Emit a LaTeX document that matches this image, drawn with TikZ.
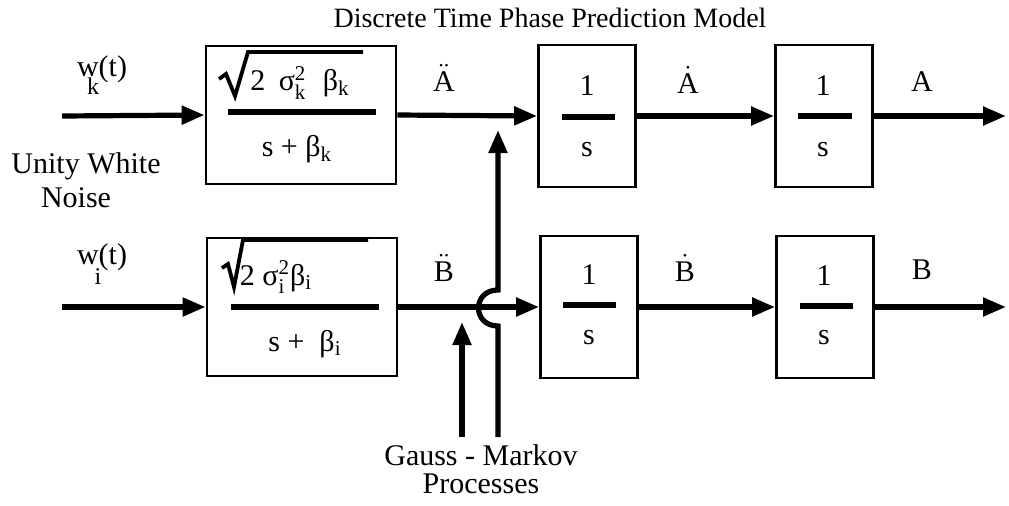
\documentclass[tikz,border=0pt]{standalone}
\usepackage{amsmath}
\usepackage{fontspec}
\setmainfont{Liberation Serif}
\usetikzlibrary{arrows.meta}
\begin{document}
\begin{tikzpicture}[x=0.5pt,y=-0.5pt,
  font=\fontsize{15}{17}\selectfont,
  filt/.style={draw,line width=1.4pt,minimum width=95pt,minimum height=69pt,inner sep=0pt},
  integ/.style={draw,line width=1.4pt,minimum width=48.5pt,minimum height=71pt,inner sep=0pt},
  conn/.style={line width=2.6pt,-{Triangle[length=11.5pt,width=9pt]}},
  fbar/.style={line width=2.8pt},
  rad/.style={line width=1.9pt,line join=miter},
  lbl/.style={inner sep=0pt},
  sub/.style={inner sep=0pt,font=\fontsize{12}{13}\selectfont}]
\useasboundingbox (0,0) rectangle (1009,505);
% blocks
\node[filt] (F1) at (301,115) {};
\node[filt] (F2) at (302,307) {};
\node[integ] (I1) at (587,116) {};
\node[integ] (I2) at (824,116) {};
\node[integ] (I3) at (589,307) {};
\node[integ] (I4) at (825,307) {};
% free ends
\coordinate (in1) at (62,116);
\coordinate (in2) at (62,307);
\coordinate (out1) at (1006,116);
\coordinate (out2) at (1006,307);
\coordinate (gmA) at (462,437);
\coordinate (tipA) at (462,322);
\coordinate (gmB) at (498,437);
\coordinate (hopB) at (498,326);
\coordinate (hopT) at (498,290);
\coordinate (tipB) at (498,130);
% connectors
\draw[conn] (in1) -- (F1.west);
\draw[conn] (F1.east) -- (I1.west);
\draw[conn] (I1.east) -- (I2.west);
\draw[conn] (I2.east) -- (out1);
\draw[conn] (in2) -- (F2.west);
\draw[conn] (F2.east) -- (I3.west);
\draw[conn] (I3.east) -- (I4.west);
\draw[conn] (I4.east) -- (out2);
\draw[conn] (gmA) -- (tipA);
\draw[conn] (gmB) -- (hopB) .. controls +(-26,0) and +(-26,0) .. (hopT) -- (tipB);
% filter 1 contents
\draw[rad] (219,79) -- (226,74) -- (235,96) -- (248,52) -- (363,52);
\node[lbl] (n1) at (300,83) {2\hspace{0.45em}σ$^{\text{2}}_{\text{k}}$\hspace{0.55em}β$_{\text{k}}$};
\draw[fbar] (228,112) -- (376,112);
\node[lbl] (d1) at (297,149) {s + β$_{\text{k}}$};
% filter 2 contents
\draw[rad] (222,268) -- (228,264) -- (234,287) -- (243,240) -- (368,240);
\node[lbl] (n2) at (276,277) {2 σ$^{\text{2}}_{\text{i}}$β$_{\text{i}}$};
\draw[fbar] (231,307) -- (379,307);
\node[lbl] (d2) at (305,344) {s +\ \ β$_{\text{i}}$};
% integrators
\node[lbl] (o1) at (587,86) {1};
\draw[fbar] (562,117) -- (615,117);
\node[lbl] (s1) at (587,150) {s};
\node[lbl] (o2) at (823,86) {1};
\draw[fbar] (798,116) -- (852,116);
\node[lbl] (s2) at (823,150) {s};
\node[lbl] (o3) at (589,275) {1};
\draw[fbar] (563,305) -- (616,305);
\node[lbl] (s3) at (589,338) {s};
\node[lbl] (o4) at (824,276) {1};
\draw[fbar] (800,306) -- (853,306);
\node[lbl] (s4) at (824,338) {s};
% signal labels
\node[lbl] (Add) at (444,78) {$\ddot{\text{A}}$};
\node[lbl] (Ad) at (688,80) {$\dot{\text{A}}$};
\node[lbl] (A) at (922,82) {A};
\node[lbl] (Bdd) at (444,268) {$\ddot{\text{B}}$};
\node[lbl] (Bd) at (685,268) {$\dot{\text{B}}$};
\node[lbl] (B) at (922,270) {B};
% inputs
\node[lbl] (wk) at (102,69) {w(t)};
\node[sub] (k) at (93,86) {k};
\node[lbl] (wi) at (102,257) {w(t)};
\node[sub] (i) at (98,277) {i};
% texts
\node[lbl,font=\fontsize{14}{16}\selectfont] (title) at (550,18) {Discrete Time Phase Prediction Model};
\node[lbl] (uw) at (86,166) {Unity White};
\node[lbl] (noise) at (76,198) {Noise};
\node[lbl,align=center,font=\fontsize{15}{14}\selectfont] (gm) at (481,469) {Gauss - Markov\\Processes};
\end{tikzpicture}
\end{document}
